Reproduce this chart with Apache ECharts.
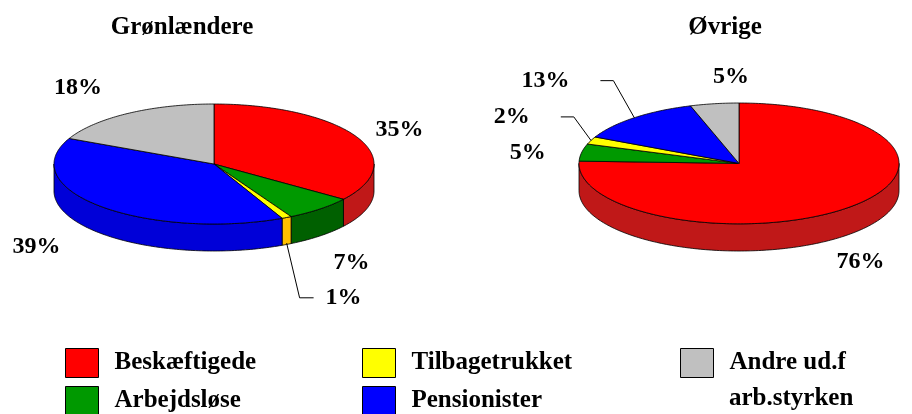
<!DOCTYPE html>
<html>
<head>
<meta charset="utf-8">
<script src="https://cdn.jsdelivr.net/npm/echarts@6/dist/echarts.min.js"></script>
<style>
  html, body { margin: 0; background: #fff; }
  #main { width: 912px; height: 414px; }
</style>
</head>
<body>
<div id="main"></div>
<script>
const categories = ['Beskæftigede', 'Arbejdsløse', 'Tilbagetrukket', 'Pensionister', 'Andre ud.f\narb.styrken'];
const titles = ['Grønlændere', 'Øvrige'];
const groenlaendere = [35, 7, 1, 39, 18];
const oevrige = [75.6, 4.6, 2.0, 12.9, 4.9];

const topColors = ['#FF0000', '#009900', '#FFFF00', '#0000FF', '#C0C0C0'];
const sideColors = ['#C01818', '#006000', '#FFC000', '#0000D8', '#909090'];
const DEPTH = 0.45;
const FONT = '"Liberation Serif", "Times New Roman", serif';

// where the percent labels sit, in pie units (rx = 1, ry = 1)
const labelAt = [
  [[1.16, 0.57], [0.86, -1.65], [0.81, -2.23], [-1.11, -1.38], [-0.85, 1.27]],
  [[0.76, -1.63], [-1.32, 0.18], [-1.42, 0.77], [-1.21, 1.37], [-0.05, 1.43]]
];
const leaders = [
  [null, null, 'right', null, null],
  [null, null, 'left', 'left', null]
];

const ctx = document.createElement('canvas').getContext('2d');
ctx.font = 'bold 24px ' + FONT;

function slices(values) {
  const total = values.reduce((a, b) => a + b, 0);
  let acc = 0;
  return values.map(v => {
    const s = acc / total * 360;
    acc += v;
    return [s, acc / total * 360, v];
  });
}

function makeRender(c, i) {
  return function (params, api) {
    const s = api.value(0), e = api.value(1), v = api.value(2);
    const rad = a => a * Math.PI / 180;
    const pt = (a, dy) => api.coord([Math.sin(rad(a)), Math.cos(rad(a)) - (dy || 0)]);
    const arc = (a0, a1, dy) => {
      const pts = [];
      const n = Math.max(2, Math.ceil(a1 - a0));
      for (let k = 0; k <= n; k++) pts.push(pt(a0 + (a1 - a0) * k / n, dy));
      return pts;
    };
    const children = [];
    const w0 = Math.max(s, 90), w1 = Math.min(e, 270);
    if (w1 > w0) {
      children.push({
        type: 'polygon',
        shape: {points: arc(w0, w1, 0).concat(arc(w0, w1, DEPTH).reverse())},
        style: {fill: sideColors[i], stroke: '#000', lineWidth: 0.8}
      });
    }
    children.push({
      type: 'polygon',
      shape: {points: [api.coord([0, 0])].concat(arc(s, e, 0))},
      style: {fill: topColors[i], stroke: '#000', lineWidth: 0.8}
    });

    const lp = api.coord(labelAt[c][i]);
    const txt = Math.round(v) + '%';
    children.push({
      type: 'text', x: lp[0], y: lp[1],
      style: {text: txt, fill: '#000', font: 'bold 24px ' + FONT, align: 'center', verticalAlign: 'middle'}
    });

    const side = leaders[c][i];
    if (side) {
      const m = (s + e) / 2;
      const start = Math.cos(rad(m)) < 0 ? pt(m, DEPTH * 0.95) : pt(m, 0);
      const hw = ctx.measureText(txt).width / 2;
      let elbow, end;
      if (side === 'right') {
        elbow = [lp[0] - hw - 26, lp[1]];
        end = [lp[0] - hw - 12, lp[1]];
      } else {
        elbow = [lp[0] + hw + 44, lp[1]];
        end = [lp[0] + hw + 31, lp[1]];
      }
      children.push({
        type: 'polyline',
        shape: {points: [start, elbow, end]},
        style: {stroke: '#000', lineWidth: 1, fill: null}
      });
    }
    return {type: 'group', children};
  };
}

const chartData = [slices(groenlaendere), slices(oevrige)];
const series = [];
chartData.forEach((sl, c) => {
  sl.forEach((d, i) => {
    series.push({
      type: 'custom',
      name: categories[i],
      xAxisIndex: c,
      yAxisIndex: c,
      itemStyle: {color: topColors[i]},
      data: [d],
      renderItem: makeRender(c, i)
    });
  });
});

const legendBase = {
  orient: 'vertical',
  top: 348,
  height: 120,
  padding: 0,
  itemWidth: 33,
  itemHeight: 29,
  itemGap: 8,
  icon: 'rect',
  selectedMode: false,
  itemStyle: {borderColor: '#000', borderWidth: 1},
  textStyle: {fontFamily: FONT, fontWeight: 'bold', fontSize: 25, lineHeight: 29, color: '#000', padding: [0, 0, 0, 11]}
};

// the last legend entry wraps onto a second line below its first one
const wrapped = categories[4].split('\n');

const myChart = echarts.init(document.getElementById('main'));
myChart.setOption({
  animation: false,
  backgroundColor: '#fff',
  grid: [
    {left: 54, top: 104, width: 320, height: 147},
    {left: 579, top: 103, width: 320, height: 148}
  ],
  xAxis: [0, 1].map(g => ({gridIndex: g, type: 'value', min: -1, max: 1, show: false})),
  yAxis: [0, 1].map(g => ({gridIndex: g, type: 'value', min: -1 - DEPTH, max: 1, show: false})),
  graphic: [
    {type: 'text', x: 182, y: 28, style: {text: titles[0], font: 'bold 25px ' + FONT, fill: '#000', align: 'center', verticalAlign: 'middle'}},
    {type: 'text', x: 725, y: 28, style: {text: titles[1], font: 'bold 25px ' + FONT, fill: '#000', align: 'center', verticalAlign: 'middle'}},
    {type: 'text', x: 729, y: 399, style: {text: wrapped[1], font: 'bold 25px ' + FONT, fill: '#000', align: 'left', verticalAlign: 'middle'}}
  ],
  legend: [
    Object.assign({}, legendBase, {left: 65, data: [categories[0], categories[1]]}),
    Object.assign({}, legendBase, {left: 362, data: [categories[2], categories[3]]}),
    Object.assign({}, legendBase, {
      left: 680, data: [categories[4]],
      formatter: name => name.split('\n')[0],
      textStyle: Object.assign({}, legendBase.textStyle, {padding: [0, 0, 0, 11]})
    })
  ],
  series: series
});
</script>
</body>
</html>
